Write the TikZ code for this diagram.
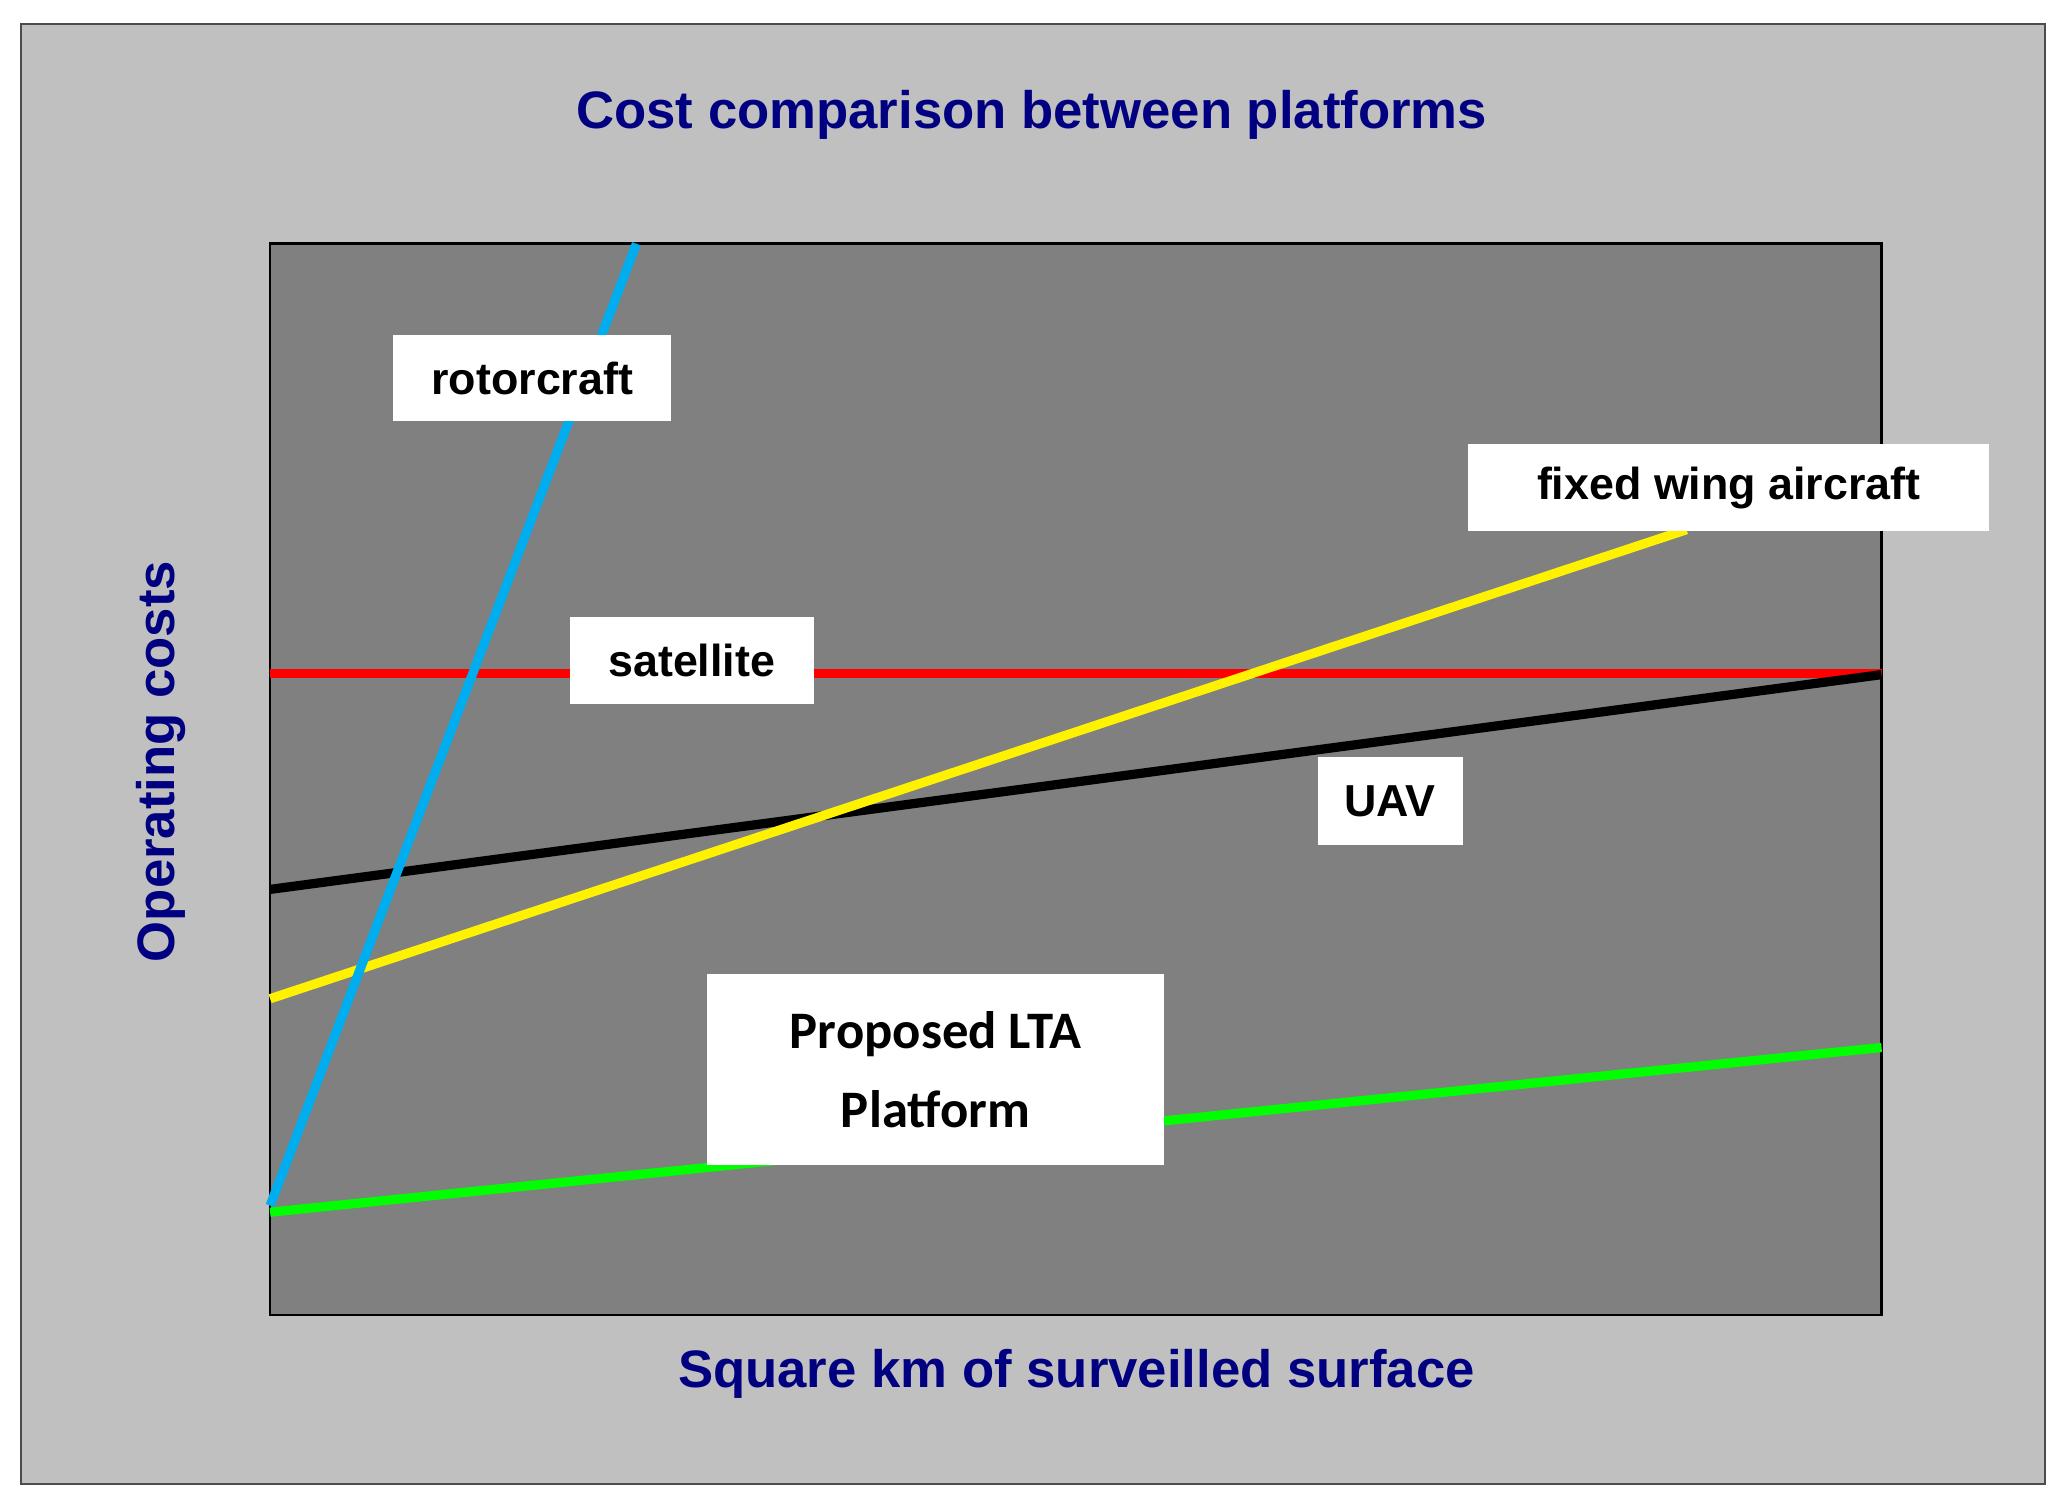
\documentclass[tikz,border=0pt]{standalone}
\usepackage{fontspec}
\setmainfont{Liberation Sans}
\newfontfamily\carlitofont{Carlito}
\definecolor{navy}{HTML}{000080}
\definecolor{lg}{HTML}{C0C0C0}
\definecolor{dg}{HTML}{808080}
\begin{document}
\begin{tikzpicture}[x=1pt,y=-1pt,
  lbl/.style={fill=white,font=\fontsize{34}{40}\selectfont\bfseries,inner sep=0pt},
  axl/.style={text=navy,font=\fontsize{40}{48}\selectfont\bfseries},
  cl/.style={line width=7pt}]
\useasboundingbox (0,0) rectangle (1568,1146);
\draw[fill=lg,draw=black!70,line width=1.5pt] (16,18) rectangle (1552,1126);
\node[axl] (title) at (783,87) {Cost comparison between platforms};
\draw[fill=dg,draw=black,line width=2pt] (205,185) rectangle (1428,998);
\node[axl] (xl) at (817,1043) {Square km of surveilled surface};
\node[axl,rotate=90] (yl) at (122,578) {Operating costs};
\coordinate (c1) at (205,915); \coordinate (c2) at (483,185);
\coordinate (g1) at (205,920); \coordinate (g2) at (1428,795);
\coordinate (y1) at (205,758); \coordinate (y2) at (1280,402);
\coordinate (b1) at (205,675); \coordinate (b2) at (1428,512);
\coordinate (r1) at (205,511); \coordinate (r2) at (1428,511);
\draw[cl,green] (g1)--(g2);
\draw[cl,red] (r1)--(r2);
\draw[cl,black] (b1)--(b2);
\draw[cl,yellow] (y1)--(y2);
\draw[cl,cyan] (c1)--(c2);
\node[lbl,minimum width=211pt,minimum height=65pt] (rot) at (404,287) {rotorcraft};
\node[lbl,minimum width=395pt,minimum height=66pt] (fw) at (1312,370) {fixed wing aircraft};
\node[lbl,minimum width=185pt,minimum height=66pt] (sat) at (525,501) {satellite};
\node[lbl,minimum width=110pt,minimum height=67pt] (uav) at (1055,608) {UAV};
\node[lbl,minimum width=347pt,minimum height=145pt,align=center,font=\carlitofont\fontsize{40}{60}\selectfont\bfseries] (lta) at (710,812) {Proposed LTA\\Platform};
\end{tikzpicture}
\end{document}
